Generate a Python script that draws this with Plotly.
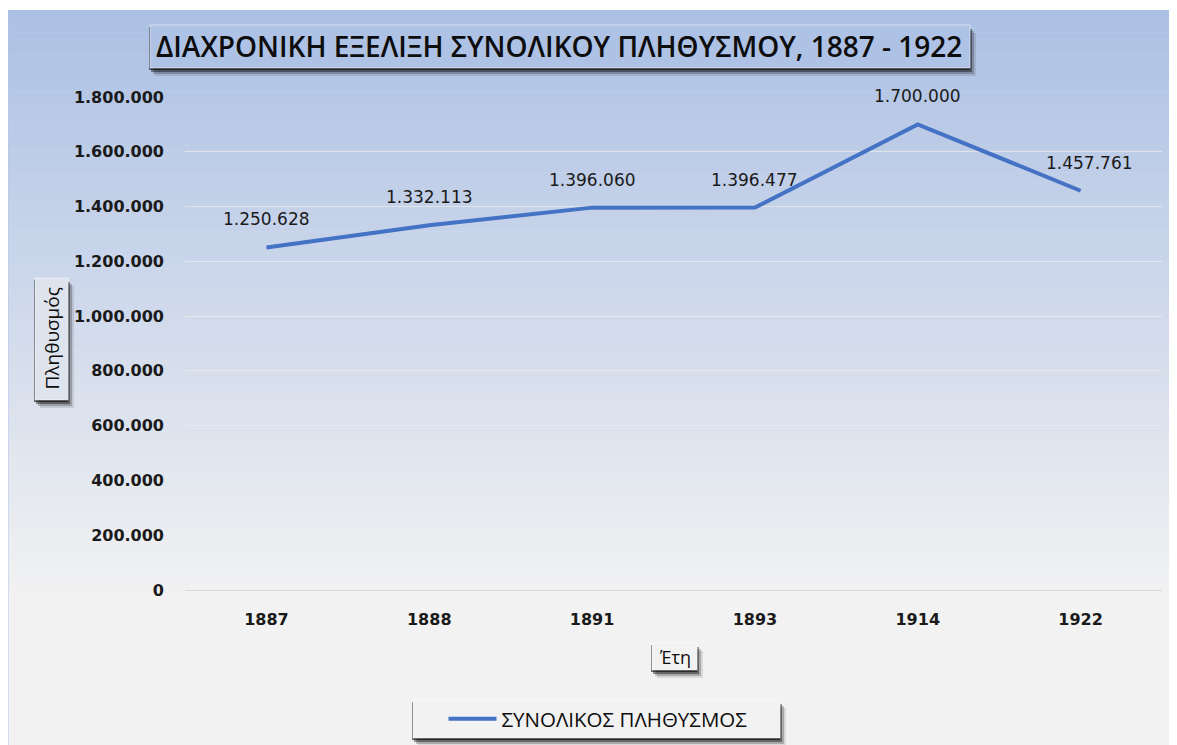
import plotly.graph_objects as go

years = ["1887", "1888", "1891", "1893", "1914", "1922"]
population = [1250628, 1332113, 1396060, 1396477, 1700000, 1457761]
series_name = "ΣΥΝΟΛΙΚΟΣ ΠΛΗΘΥΣΜΟΣ"
title_text = "ΔΙΑΧΡΟΝΙΚΗ ΕΞΕΛΙΞΗ ΣΥΝΟΛΙΚΟΥ ΠΛΗΘΥΣΜΟΥ, 1887 - 1922"
y_title = "Πληθυσμός"
x_title = "Έτη"
y_ticks = [0, 200000, 400000, 600000, 800000, 1000000, 1200000, 1400000, 1600000, 1800000]

W, H = 1177, 745
OFF = 8  # page body margin
# plot area in screen coordinates
L, R, T, B = 185, 1162, 97, 590
PW, PH = R - L, B - T

def px(x):
    return (x - L) / PW

def py(y):
    return (B - y) / PH

def fmt(v):
    return f"{v:,}".replace(",", ".")

FONT = "Open Sans, Noto Sans, DejaVu Sans, sans-serif"
NUMFONT = "DejaVu Sans, Verdana, sans-serif"

shapes = []
top_c = (172, 192, 228)
bot_c = (242, 242, 242)
g0, g1 = 10, 600
n = 80
for i in range(n):
    ya = g0 + (g1 - g0) * i / n
    yb = g0 + (g1 - g0) * (i + 1) / n + 0.6
    t = (i + 0.5) / n
    c = tuple(round(top_c[k] + (bot_c[k] - top_c[k]) * t) for k in range(3))
    shapes.append(dict(type="rect", xref="paper", yref="paper", layer="below",
                       x0=px(7), x1=px(W + 20), y0=py(yb), y1=py(ya),
                       fillcolor=f"rgb{c}", line=dict(width=0)))
shapes.append(dict(type="rect", xref="paper", yref="paper", layer="below",
                   x0=px(7), x1=px(W + 20), y0=py(H + 20), y1=py(g1),
                   fillcolor="rgb(242,242,242)", line=dict(width=0)))
shapes.append(dict(type="line", xref="paper", yref="paper", layer="below",
                   x0=px(7.5), x1=px(7.5), y0=py(H + 20), y1=py(10),
                   line=dict(color="rgb(180,198,231)", width=2)))
for ty in [20, 125, 212, 248, 290, 375, 460, 530, 678, 713]:
    shapes.append(dict(type="line", xref="paper", yref="paper", layer="below",
                       x0=px(1), x1=px(5), y0=py(ty), y1=py(ty),
                       line=dict(color="rgb(200,200,200)", width=1)))

def boxed(x0, y0, x1, y1, fill, border="rgba(255,255,255,0.5)"):
    for k, op in [(8, 0.10), (6, 0.22), (4, 0.40), (2, 0.55)]:
        shapes.append(dict(type="rect", xref="paper", yref="paper", layer="below",
                           x0=px(x0 + k - 3), x1=px(x1 + k - 2), y0=py(y1 + k), y1=py(y0 + k),
                           fillcolor=f"rgba(0,0,0,{op})", line=dict(width=0)))
    shapes.append(dict(type="rect", xref="paper", yref="paper", layer="below",
                       x0=px(x0), x1=px(x1), y0=py(y1), y1=py(y0),
                       fillcolor=fill, line=dict(color=border, width=1)))

boxed(150, 25, 970, 68, "rgb(174,194,229)")
boxed(35, 278, 68, 400, "rgb(222,228,238)")
boxed(652, 643, 697, 670, "rgb(242,242,242)")
boxed(413, 700, 780, 738, "rgb(242,242,242)")

fig = go.Figure()
fig.add_trace(go.Scatter(x=years, y=population, mode="lines", name=series_name,
                         line=dict(color="#4472c4", width=4), showlegend=True))

annotations = []
for i, (yr, v) in enumerate(zip(years, population)):
    annotations.append(dict(x=i, y=v, xref="x", yref="y", text=fmt(v), showarrow=False,
                            yshift=28, xshift=9 if yr == "1922" else 0,
                            font=dict(family=NUMFONT, size=17, color="#1a1a1a")))
annotations.append(dict(x=px(559), y=py(46), xref="paper", yref="paper", text=title_text,
                        xanchor="center", yanchor="middle", showarrow=False,
                        font=dict(family=FONT, size=28, color="#0d0d0d", weight=600)))
annotations.append(dict(x=px(51.5), y=py(339), xref="paper", yref="paper", text=y_title,
                        xanchor="center", yanchor="middle", showarrow=False, textangle=-90,
                        font=dict(family=FONT, size=19, color="#0d0d0d")))
annotations.append(dict(x=px(674.5), y=py(656.5), xref="paper", yref="paper", text=x_title,
                        xanchor="center", yanchor="middle", showarrow=False,
                        font=dict(family=FONT, size=18, color="#0d0d0d")))

fig.update_layout(
    width=W, height=H,
    margin=dict(l=L - OFF, r=W - (R - OFF), t=T - OFF, b=H - (B - OFF)),
    paper_bgcolor="white", plot_bgcolor="rgba(0,0,0,0)",
    separators=",.",
    shapes=shapes, annotations=annotations,
    showlegend=True,
    legend=dict(orientation="h", x=px(598), y=py(719), xanchor="center", yanchor="middle",
                itemwidth=48,
                bgcolor="rgba(0,0,0,0)", font=dict(family=FONT, size=20.5, color="#0d0d0d")),
    xaxis=dict(type="category", categoryorder="array", categoryarray=years,
               range=[-0.5, len(years) - 0.5], autorange=False,
               showgrid=False, showline=False, zeroline=False,
               ticks="", ticklabelstandoff=18,
               tickfont=dict(family=NUMFONT, size=16, color="#1a1a1a", weight="bold")),
    yaxis=dict(range=[0, 1800000], autorange=False, tickvals=y_ticks,
               ticktext=[fmt(v) for v in y_ticks],
               showgrid=True, gridcolor="rgba(235,235,235,0.75)", gridwidth=1,
               zeroline=True, zerolinecolor="rgb(217,217,217)", zerolinewidth=1,
               showline=False, ticks="", ticklabelstandoff=20,
               tickfont=dict(family=NUMFONT, size=16, color="#1a1a1a", weight="bold")),
)

fig.write_html("out.html")
